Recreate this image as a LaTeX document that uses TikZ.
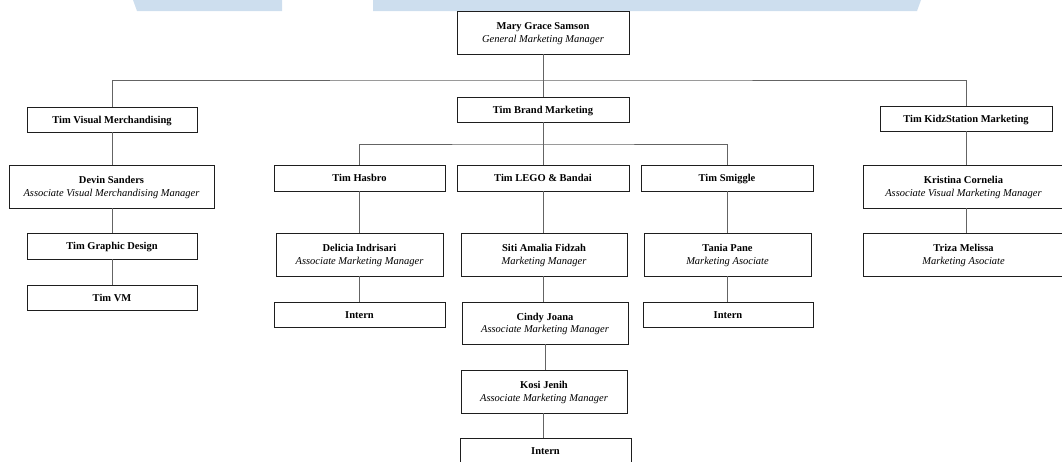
\documentclass[tikz,border=0pt]{standalone}
\usepackage{fontspec}
\setmainfont{Liberation Serif}
\definecolor{wm}{RGB}{205,222,238}
\definecolor{conn}{RGB}{100,100,100}
\definecolor{boxline}{RGB}{30,30,30}
\newcommand{\sttop}{\rule{0pt}{11pt}}
\newcommand{\stbot}{\rule[-4pt]{0pt}{0pt}}
\begin{document}
\begin{tikzpicture}[x=1pt,y=-1pt,
  orgbox/.style={draw=boxline,line width=0.85pt,fill=white,inner sep=0pt,align=center,
    font=\fontsize{10.5}{12.7}\selectfont},
  link/.style={draw=conn,line width=1pt}]
\useasboundingbox (0,0) rectangle (1062,461);
\clip (0,0) rectangle (1062,461);
% watermark bands
\fill[wm] (133,0) -- (282,0) -- (282,11) -- (137,11) -- cycle;
\fill[wm] (373,0) -- (921,0) -- (917,11) -- (373,11) -- cycle;
% nodes
\node[orgbox,minimum width=172pt,minimum height=43pt] (mary) at (543,32.5) {\sttop\textbf{Mary Grace Samson}\\\textit{General Marketing Manager}\stbot};
\node[orgbox,minimum width=172pt,minimum height=25pt] (brand) at (543,109.5) {\sttop\textbf{Tim Brand Marketing}\stbot};
\node[orgbox,minimum width=170pt,minimum height=25pt] (tvm) at (112,119.5) {\sttop\textbf{Tim Visual Merchandising}\stbot};
\node[orgbox,minimum width=172pt,minimum height=25pt] (kidz) at (966,118.5) {\sttop\textbf{Tim KidzStation Marketing}\stbot};
\node[orgbox,minimum width=205pt,minimum height=43pt] (devin) at (111.5,186.5) {\sttop\textbf{Devin Sanders}\\\textit{Associate Visual Merchandising Manager}\stbot};
\node[orgbox,minimum width=170pt,minimum height=26pt] (gd) at (112,246) {\sttop\textbf{Tim Graphic Design}\stbot};
\node[orgbox,minimum width=170pt,minimum height=25pt] (vm) at (112,297.5) {\sttop\textbf{Tim VM}\stbot};
\node[orgbox,minimum width=171pt,minimum height=26pt] (hasbro) at (359.5,178) {\sttop\textbf{Tim Hasbro}\stbot};
\node[orgbox,minimum width=172pt,minimum height=26pt] (lego) at (543,178) {\sttop\textbf{Tim LEGO \& Bandai}\stbot};
\node[orgbox,minimum width=172pt,minimum height=26pt] (smiggle) at (727,178) {\sttop\textbf{Tim Smiggle}\stbot};
\node[orgbox,minimum width=167pt,minimum height=43pt] (delicia) at (359.5,254.5) {\sttop\textbf{Delicia Indrisari}\\\textit{Associate Marketing Manager}\stbot};
\node[orgbox,minimum width=166pt,minimum height=43pt] (siti) at (544,254.5) {\sttop\textbf{Siti Amalia Fidzah}\\\textit{Marketing Manager}\stbot};
\node[orgbox,minimum width=167pt,minimum height=43pt] (tania) at (727.5,254.5) {\sttop\textbf{Tania Pane}\\\textit{Marketing Asociate}\stbot};
\node[orgbox,minimum width=171pt,minimum height=25pt] (intA) at (359.5,314.5) {\sttop\textbf{Intern}\stbot};
\node[orgbox,minimum width=166pt,minimum height=42pt] (cindy) at (545,323) {\sttop\textbf{Cindy Joana}\\\textit{Associate Marketing Manager}\stbot};
\node[orgbox,minimum width=170pt,minimum height=25pt] (intC) at (728,314.5) {\sttop\textbf{Intern}\stbot};
\node[orgbox,minimum width=166pt,minimum height=43pt] (kosi) at (544,391.5) {\sttop\textbf{Kosi Jenih}\\\textit{Associate Marketing Manager}\stbot};
\node[orgbox,minimum width=171pt,minimum height=26pt] (intB) at (545.5,451) {\sttop\textbf{Intern}\stbot};
\node[orgbox,minimum width=201pt,minimum height=43pt] (kristina) at (963.5,186.5) {\sttop\textbf{Kristina Cornelia}\\\textit{Associate Visual Marketing Manager}\stbot};
\node[orgbox,minimum width=201pt,minimum height=43pt] (triza) at (963.5,254.5) {\sttop\textbf{Triza Melissa}\\\textit{Marketing Asociate}\stbot};
% junctions
\coordinate (h1) at (543,80);
\coordinate (h2) at (543,144);
% connectors
\path[link] (mary.south) -- (brand.north);
\path[link] (tvm.north) |- (h1) -| (kidz.north);
\path[link] (brand.south) -- (lego.north);
\path[link] (hasbro.north) |- (h2) -| (smiggle.north);
\path[link] (tvm.south) -- (tvm.south |- devin.north);
\path[link] (tvm.south |- devin.south) -- (tvm.south |- gd.north);
\path[link] (gd.south) -- (gd.south |- vm.north);
\path[link] (hasbro.south) -- (hasbro.south |- delicia.north);
\path[link] (hasbro.south |- delicia.south) -- (hasbro.south |- intA.north);
\path[link] (lego.south) -- (lego.south |- siti.north);
\path[link] (lego.south |- siti.south) -- (lego.south |- cindy.north);
\path[link] (cindy.south) -- (cindy.south |- kosi.north);
\path[link] (lego.south |- kosi.south) -- (lego.south |- intB.north);
\path[link] (smiggle.south) -- (smiggle.south |- tania.north);
\path[link] (smiggle.south |- tania.south) -- (smiggle.south |- intC.north);
\path[link] (kidz.south) -- (kidz.south |- kristina.north);
\path[link] (kidz.south |- kristina.south) -- (kidz.south |- triza.north);
\end{tikzpicture}
\end{document}
